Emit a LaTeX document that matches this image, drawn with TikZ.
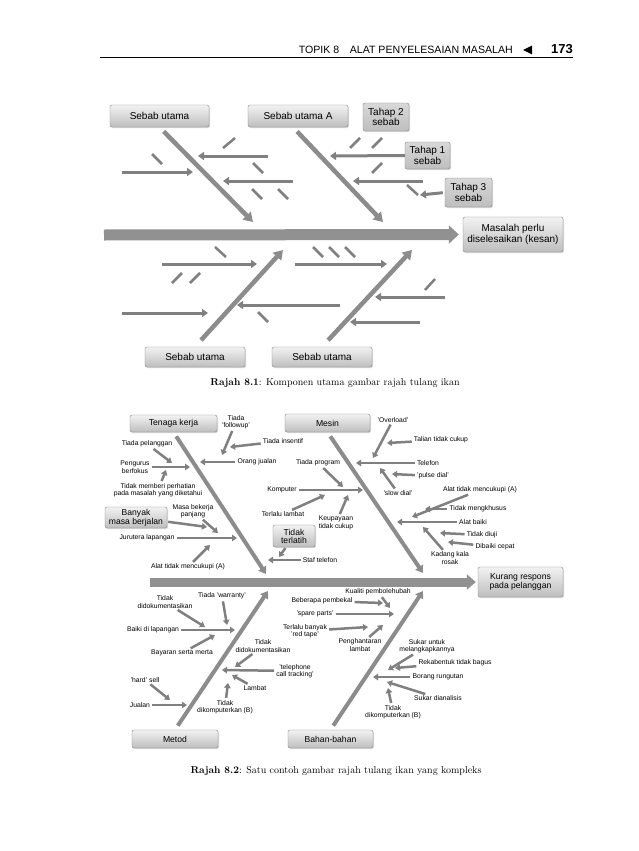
\documentclass[tikz,border=0pt]{standalone}
\usepackage{fontspec}
\setsansfont{Liberation Sans}
\usetikzlibrary{arrows.meta,shadows}

\definecolor{cBONE}{RGB}{140,140,140}
\definecolor{cTWIG}{RGB}{128,128,128}
\definecolor{cSPINE}{RGB}{145,145,145}
\definecolor{cBOXTOP}{RGB}{242,242,242}
\definecolor{cBOXBOT}{RGB}{190,190,190}
\definecolor{cBOXLINE}{RGB}{135,135,135}

\tikzset{
  causebox/.style={draw=cBOXLINE,rounded corners=2pt,top color=cBOXTOP,bottom color=cBOXBOT,
    align=center,inner sep=1pt,font=\sffamily\fontsize{10}{9}\selectfont,
    drop shadow={opacity=0.3,shadow xshift=1pt,shadow yshift=-1pt}},
  stepbox/.style={causebox,top color=cBOXBOT!60,bottom color=cBOXBOT},
  smallbox/.style={causebox,font=\sffamily\fontsize{8.6}{8}\selectfont},
  spine/.style={draw=cSPINE,line width=11pt,-{Triangle[length=10pt,width=18pt]}},
  spinetwo/.style={draw=cSPINE,line width=9pt,-{Triangle[length=9pt,width=15pt]}},
  bone/.style={draw=cBONE,line width=4.5pt,shorten <=6pt,-{Triangle[length=9pt,width=11pt]}},
  bonetwo/.style={draw=cBONE,line width=4pt,shorten <=5pt,-{Triangle[length=7pt,width=9pt]}},
  twig/.style={draw=cTWIG,line width=3pt,-{Triangle[length=6pt,width=8pt]}},
  twigtwo/.style={draw=cTWIG,line width=2.5pt,shorten <=1pt,-{Triangle[length=5pt,width=6.5pt]}},
  nick/.style={draw=cTWIG,line width=2.5pt},
  lbl/.style={font=\sffamily\fontsize{6.8}{7.4}\selectfont,inner sep=1pt,align=center},
}

\begin{document}
\begin{tikzpicture}[x=1pt,y=-1pt]
\useasboundingbox[fill=white] (0,0) rectangle (638,851);
% page header
\draw[line width=0.8pt] (100,57) -- (573,57);
\node[anchor=base east,font=\sffamily\fontsize{10.6}{12}\selectfont,inner sep=0] (hdr) at (513,54) {TOPIK 8\quad ALAT PENYELESAIAN MASALAH};
\fill (523,50) -- (532,45.5) -- (532,54.5) -- cycle;
\node[anchor=base east,font=\sffamily\bfseries\fontsize{13}{14}\selectfont,inner sep=0] (pg) at (573,54) {173};

% Rajah 8.1
\node[causebox,minimum width=99pt,minimum height=22pt] (su1) at (159.5,116) {Sebab utama};
\node[causebox,minimum width=100pt,minimum height=22pt] (suA) at (298,116) {Sebab utama A};
\node[stepbox,minimum width=46pt,minimum height=28pt] (th2) at (386,117) {Tahap 2\\sebab};
\node[stepbox,minimum width=45pt,minimum height=27pt] (th1) at (427.5,155.5) {Tahap 1\\sebab};
\node[stepbox,minimum width=47pt,minimum height=29pt] (th3) at (468.5,192.5) {Tahap 3\\sebab};
\node[causebox,minimum width=100pt,minimum height=35pt] (msl) at (513,234.5) {Masalah perlu\\diselesaikan (kesan)};
\node[causebox,minimum width=100pt,minimum height=20pt] (sb1) at (195,357) {Sebab utama};
\node[causebox,minimum width=100pt,minimum height=20pt] (sb2) at (322,357) {Sebab utama};
\coordinate (sp1) at (104,235);
\coordinate (j1) at (253,222);
\coordinate (j2) at (383,222);
\coordinate (j3) at (283,250);
\coordinate (j4) at (412,250);
\draw[spine,shorten >=4pt] (sp1) -- (msl.west);
\draw[bone] (su1.south) -- (j1);
\draw[bone] ([xshift=-5pt]suA.south) -- (j2);
\draw[bone,shorten <=9pt] (sb1.north) -- (j3);
\draw[bone,shorten <=9pt] (sb2.north) -- (j4);
% upper twigs
\draw[twig] (268,156) -- (198,156);
\draw[twig] (293,181) -- (223,181);
\draw[twig] (122,172) -- (193,172);
\draw[twig] (th1.west) -- (330,156);
\draw[twig] (423,181) -- (353,181);
\draw[twig,shorten <=2pt] (th3.west) -- (420,195);
\draw[nick] (223,148) -- (235,138);
\draw[nick] (152,154) -- (162,164);
\draw[nick] (253,163) -- (263,173);
\draw[nick] (252,189) -- (262,199);
\draw[nick] (278,189) -- (288,199);
\draw[nick] (350,148) -- (360,138);
\draw[nick] (372,148) -- (382,138);
\draw[nick] (372,173) -- (382,163);
\draw[nick] (407,185) -- (418,195);
% lower twigs
\draw[twig] (162,264) -- (257,264);
\draw[twig] (122,313) -- (208,313);
\draw[twig] (340,305) -- (237,305);
\draw[twig] (295,264) -- (387,264);
\draw[twig] (445,297) -- (375,297);
\draw[twig] (420,322) -- (350,322);
\draw[nick] (215,247) -- (226,257);
\draw[nick] (172,283) -- (182,273);
\draw[nick] (190,283) -- (200,273);
\draw[nick] (258,312) -- (268,322);
\draw[nick] (313,247) -- (323,257);
\draw[nick] (329,247) -- (339,257);
\draw[nick] (345,247) -- (355,257);
\draw[nick] (425,290) -- (435,279);
\node[font=\fontsize{10}{12}\selectfont] (cap1) at (335,383) {\textbf{Rajah 8.1}: Komponen utama gambar rajah tulang ikan};

% Rajah 8.2
\node[smallbox,minimum width=87pt,minimum height=17pt] (tk) at (173.5,423.5) {Tenaga kerja};
\node[smallbox,minimum width=85pt,minimum height=18pt] (ms) at (327.5,423) {Mesin};
\node[smallbox,minimum width=62pt,minimum height=21pt] (bmb) at (136,517.5) {Banyak\\masa berjalan};
\node[smallbox,minimum width=42pt,minimum height=22pt] (tt) at (294,536) {Tidak\\terlatih};
\node[smallbox,minimum width=85pt,minimum height=30pt] (kr) at (520.5,582) {Kurang respons\\pada pelanggan};
\node[smallbox,minimum width=86pt,minimum height=18pt] (mt) at (175,739) {Metod};
\node[smallbox,minimum width=85pt,minimum height=18pt] (bb) at (330.5,739) {Bahan-bahan};
\coordinate (sp2) at (150,582);
\coordinate (k1) at (266,574);
\coordinate (k2) at (423,573);
\coordinate (k3) at (268,591);
\coordinate (k4) at (423,591);
\draw[spinetwo,shorten >=2pt] (sp2) -- (kr.west);
\draw[bonetwo] (tk.south) -- (k1);
\draw[bonetwo] (ms.south) -- (k2);
\draw[bonetwo] (mt.north) -- (k3);
\draw[bonetwo] (bb.north) -- (k4);
% Tenaga kerja
\node[lbl] (tpl) at (147,444) {Tiada pelanggan};
\node[lbl] (pgb) at (135,467) {Pengurus\\berfokus};
\node[lbl] (tmp) at (158,490) {Tidak memberi perhatian\\pada masalah yang diketahui};
\node[lbl] (tfu) at (236,422) {Tiada\\'followup'};
\node[lbl] (tin) at (283,441) {Tiada insentif};
\node[lbl] (ojl) at (257,462) {Orang jualan};
\node[lbl] (mbp) at (193,511) {Masa bekerja\\panjang};
\node[lbl] (jlp) at (147,538) {Jurutera lapangan};
\node[lbl] (atm) at (188,567) {Alat tidak mencukupi (A)};
\node[lbl] (stf) at (320,560) {Staf telefon};
\coordinate (tplE) at (172,463);
\coordinate (pgbE) at (190,467);
\coordinate (tmpE) at (166,470);
\coordinate (tfuE) at (222,455);
\coordinate (tinE) at (230,447);
\coordinate (ojlE) at (200,462);
\coordinate (bmbE) at (207,527);
\coordinate (mbpE) at (218,533);
\coordinate (jlpE) at (237,538);
\coordinate (atmE) at (210,545);
\coordinate (stfE) at (268,560);
\coordinate (ttE) at (279,557);
\draw[twigtwo] (tpl) -- (tplE);
\draw[twigtwo] (pgb) -- (pgbE);
\draw[twigtwo] (tmp) -- (tmpE);
\draw[twigtwo] (tfu) -- (tfuE);
\draw[twigtwo] (tin) -- (tinE);
\draw[twigtwo] (ojl) -- (ojlE);
\draw[twigtwo] (bmb) -- (bmbE);
\draw[twigtwo] (mbp) -- (mbpE);
\draw[twigtwo] (jlp) -- (jlpE);
\draw[twigtwo] (atm) -- (atmE);
\draw[twigtwo] (stf) -- (stfE);
\draw[twigtwo] (tt) -- (ttE);
% Mesin
\node[lbl] (tpr) at (318,463) {Tiada program};
\node[lbl] (kom) at (282,490) {Komputer};
\node[lbl] (tlb) at (283,514) {Terlalu lambat};
\node[lbl] (ktc) at (336,523) {Keupayaan\\tidak cukup};
\node[lbl] (ovl) at (393,420) {'Overload'};
\node[lbl] (ttc) at (441,440) {Talian tidak cukup};
\node[lbl] (tlf) at (428,463) {Telefon};
\node[lbl] (pds) at (433,476) {'pulse dial'};
\node[lbl] (sds) at (398,493) {'slow dial'};
\node[lbl] (atm2) at (480,490) {Alat tidak mencukupi (A)};
\node[lbl] (tmk) at (478,509) {Tidak mengkhusus};
\node[lbl] (abk) at (473,522) {Alat baiki};
\node[lbl] (tdj) at (482,535) {Tidak diuji};
\node[lbl] (dbc) at (495,547) {Dibaiki cepat};
\node[lbl] (kkr) at (450,558) {Kadang kala\\rosak};
\coordinate (tprE) at (343,487);
\coordinate (komE) at (363,490);
\coordinate (tlbE) at (325,495);
\coordinate (ktcE) at (348,495);
\coordinate (ovlE) at (373,458);
\coordinate (ttcE) at (387,443);
\coordinate (tlfE) at (356,463);
\coordinate (pdsE) at (392,474);
\coordinate (sdsE) at (380,468);
\coordinate (atm2E) at (412,517);
\coordinate (tmkE) at (425,509);
\coordinate (abkE) at (397,522);
\coordinate (tdjE) at (440,533);
\coordinate (dbcE) at (448,542);
\coordinate (kkrE) at (423,527);
\draw[twigtwo] (tpr) -- (tprE);
\draw[twigtwo] (kom) -- (komE);
\draw[twigtwo] (tlb) -- (tlbE);
\draw[twigtwo] (ktc) -- (ktcE);
\draw[twigtwo] (ovl) -- (ovlE);
\draw[twigtwo] (ttc) -- (ttcE);
\draw[twigtwo] (tlf) -- (tlfE);
\draw[twigtwo] (pds) -- (pdsE);
\draw[twigtwo] (sds) -- (sdsE);
\draw[twigtwo] (atm2) -- (atm2E);
\draw[twigtwo] (tmk) -- (tmkE);
\draw[twigtwo] (abk) -- (abkE);
\draw[twigtwo] (tdj) -- (tdjE);
\draw[twigtwo] (dbc) -- (dbcE);
\draw[twigtwo] (kkr) -- (kkrE);
% Metod
\node[lbl] (tdk) at (165,602) {Tidak\\didokumentasikan};
\node[lbl] (twr) at (222,596) {Tiada 'warranty'};
\node[lbl] (bdl) at (153,630) {Baiki di lapangan};
\node[lbl] (bsm) at (182,653) {Bayaran serta merta};
\node[lbl] (hsl) at (145,680) {'hard' sell};
\node[lbl] (jua) at (140,705) {Jualan};
\node[lbl] (tdkb) at (225,707) {Tidak\\dikomputerkan (B)};
\node[lbl] (lmb) at (255,688) {Lambat};
\node[lbl] (tdk2) at (263,646) {Tidak\\didokumentasikan};
\node[lbl] (tct) at (295,671) {'telephone\\call tracking'};
\coordinate (tdkE) at (205,627);
\coordinate (twrE) at (227,625);
\coordinate (bdlE) at (235,630);
\coordinate (bsmE) at (215,635);
\coordinate (hslE) at (170,700);
\coordinate (juaE) at (187,705);
\coordinate (tdkbE) at (228,683);
\coordinate (lmbE) at (232,675);
\coordinate (tdk2E) at (235,667);
\coordinate (tctE) at (222,670);
\draw[twigtwo] (tdk) -- (tdkE);
\draw[twigtwo] (twr) -- (twrE);
\draw[twigtwo] (bdl) -- (bdlE);
\draw[twigtwo] (bsm) -- (bsmE);
\draw[twigtwo] (hsl) -- (hslE);
\draw[twigtwo] (jua) -- (juaE);
\draw[twigtwo] (tdkb) -- (tdkbE);
\draw[twigtwo] (lmb) -- (lmbE);
\draw[twigtwo] (tdk2) -- (tdk2E);
\draw[twigtwo] (tct) -- (tctE);
% Bahan-bahan
\node[lbl] (kpb) at (378,592) {Kualiti pembolehubah};
\node[lbl] (bpb) at (322,601) {Beberapa pembekal};
\node[lbl] (spp) at (315,614) {'spare parts'};
\node[lbl] (trt) at (305,631) {Terlalu banyak\\'red tape'};
\node[lbl] (phl) at (360,645) {Penghantaran\\lambat};
\node[lbl] (sum) at (427,646) {Sukar untuk\\melangkapkannya};
\node[lbl] (rtb) at (455,663) {Rekabentuk tidak bagus};
\node[lbl] (brr) at (438,677) {Borang rungutan};
\node[lbl] (sdn) at (438,698) {Sukar dianalisis};
\node[lbl] (tdkc) at (393,712) {Tidak\\dikomputerkan (B)};
\coordinate (kpbE) at (390,608);
\coordinate (bpbE) at (383,603);
\coordinate (sppE) at (394,614);
\coordinate (trtE) at (368,627);
\coordinate (phlE) at (383,625);
\coordinate (sumE) at (388,670);
\coordinate (rtbE) at (395,668);
\coordinate (brrE) at (373,677);
\coordinate (sdnE) at (387,682);
\coordinate (tdkcE) at (388,688);
\draw[twigtwo] (kpb) -- (kpbE);
\draw[twigtwo] (bpb) -- (bpbE);
\draw[twigtwo] (spp) -- (sppE);
\draw[twigtwo] (trt) -- (trtE);
\draw[twigtwo] (phl) -- (phlE);
\draw[twigtwo] (sum) -- (sumE);
\draw[twigtwo] (rtb) -- (rtbE);
\draw[twigtwo] (brr) -- (brrE);
\draw[twigtwo] (sdn) -- (sdnE);
\draw[twigtwo] (tdkc) -- (tdkcE);
\node[font=\fontsize{10}{12}\selectfont] (cap2) at (336,771) {\textbf{Rajah 8.2}: Satu contoh gambar rajah tulang ikan yang kompleks};
\end{tikzpicture}
\end{document}
